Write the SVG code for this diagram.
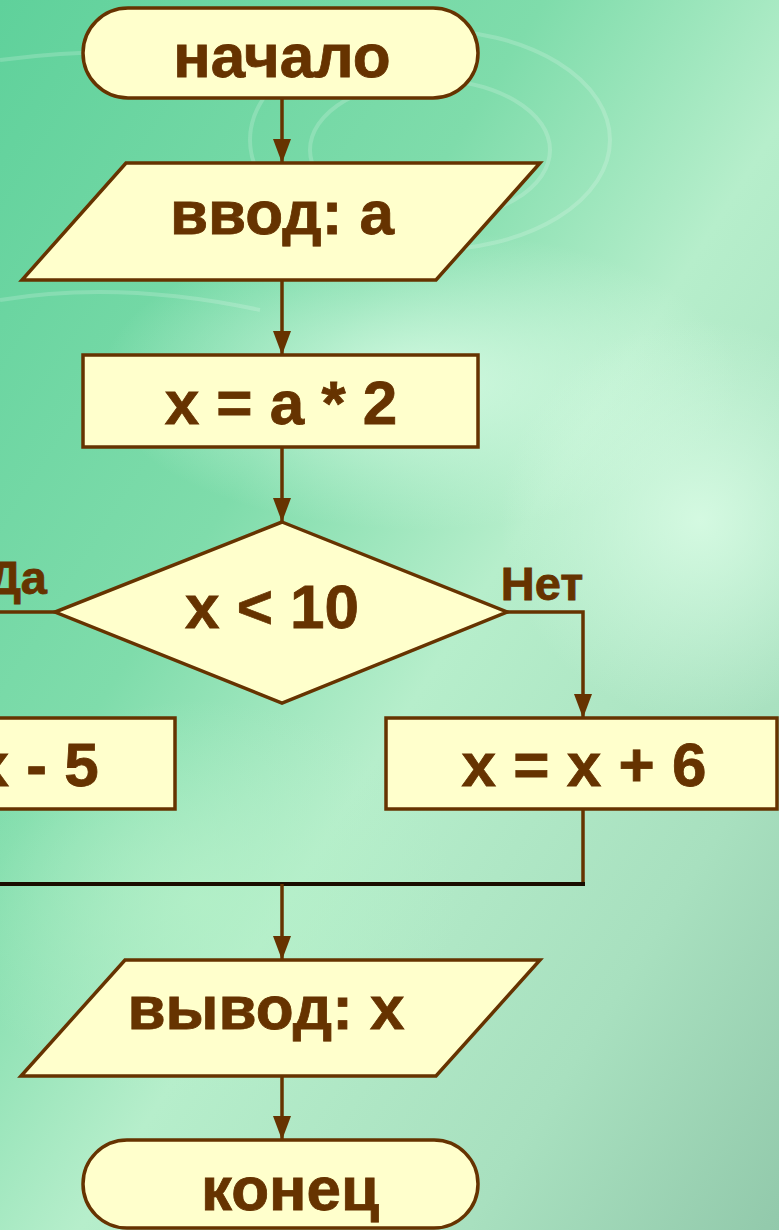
<svg xmlns="http://www.w3.org/2000/svg" width="779" height="1230" viewBox="0 0 779 1230">
<defs>
<linearGradient id="bg" x1="0" y1="0" x2="1" y2="1">
<stop offset="0" stop-color="#5fd19b"/>
<stop offset="0.35" stop-color="#7fdcab"/>
<stop offset="0.55" stop-color="#b6eecb"/>
<stop offset="0.8" stop-color="#a8e0bf"/>
<stop offset="1" stop-color="#92c9ab"/>
</linearGradient>
<radialGradient id="glow1" cx="0.5" cy="0.5" r="0.5">
<stop offset="0" stop-color="#d8fbe4" stop-opacity="0.9"/>
<stop offset="1" stop-color="#d8fbe4" stop-opacity="0"/>
</radialGradient>
<radialGradient id="glow2" cx="0.5" cy="0.5" r="0.5">
<stop offset="0" stop-color="#b4f0c8" stop-opacity="0.8"/>
<stop offset="1" stop-color="#b4f0c8" stop-opacity="0"/>
</radialGradient>
<marker id="arr" markerUnits="userSpaceOnUse" markerWidth="24" markerHeight="18" refX="24" refY="9" orient="auto" viewBox="0 0 24 18">
<path d="M0,0 L24,9 L0,18 Z" fill="#663300"/>
</marker>
<style>
.shape{fill:#ffffcc;stroke:#663300;stroke-width:3.5}
.lbl{font-family:"Liberation Sans",Arial,sans-serif;font-weight:bold;font-size:62px;fill:#663300;stroke:#663300;stroke-width:0.8;text-anchor:middle}
.small{font-size:47px}
.line{fill:none;stroke:#663300;stroke-width:3.5}
</style>
</defs>
<rect width="779" height="1230" fill="url(#bg)"/>
<ellipse cx="420" cy="380" rx="320" ry="150" fill="url(#glow1)"/>
<ellipse cx="700" cy="520" rx="200" ry="200" fill="url(#glow1)"/>
<ellipse cx="200" cy="900" rx="260" ry="200" fill="url(#glow2)"/>
<g fill="none" stroke="#ffffff" stroke-opacity="0.18" stroke-width="4">
<ellipse cx="430" cy="140" rx="180" ry="110"/>
<ellipse cx="430" cy="150" rx="120" ry="70"/>
<path d="M0,60 Q150,40 300,70"/>
<path d="M0,300 Q120,280 260,310"/>
</g>

<g id="connectors">
<line class="line" x1="282" y1="98" x2="282" y2="163" marker-end="url(#arr)"/>
<line class="line" x1="282" y1="280" x2="282" y2="355" marker-end="url(#arr)"/>
<line class="line" x1="282" y1="447" x2="282" y2="522" marker-end="url(#arr)"/>
<polyline class="line" points="55,612 -10,612"/>
<polyline class="line" points="507,612 583,612 583,718" marker-end="url(#arr)"/>
<polyline class="line" points="583,809 583,884"/>
<line x1="-10" y1="884" x2="585" y2="884" stroke="#1a0d00" stroke-width="4"/>
<line class="line" x1="282" y1="884" x2="282" y2="960" marker-end="url(#arr)"/>
<line class="line" x1="282" y1="1076" x2="282" y2="1140" marker-end="url(#arr)"/>
<text class="lbl small" x="47" y="594" style="text-anchor:end">Да</text>
<text class="lbl small" x="542" y="600">Нет</text>
</g>

<g id="start">
<rect class="shape" x="83" y="8" width="395" height="90" rx="45" ry="45"/>
<text class="lbl" x="282" y="77">начало</text>
</g>
<g id="input">
<polygon class="shape" points="126,163 540,163 436,280 22,280"/>
<text class="lbl" x="282" y="234">ввод: а</text>
</g>
<g id="calc">
<rect class="shape" x="83" y="355" width="395" height="92"/>
<text class="lbl" x="281" y="424">x = a * 2</text>
</g>
<g id="cond">
<polygon class="shape" points="282,522 507,612 282,703 55,612"/>
<text class="lbl" x="272" y="628">x &lt; 10</text>
</g>
<g id="yes">
<rect class="shape" x="-216" y="718" width="391" height="91"/>
<text class="lbl" x="-16" y="786">x = x - 5</text>
</g>
<g id="no">
<rect class="shape" x="386" y="718" width="391" height="91"/>
<text class="lbl" x="584" y="786">x = x + 6</text>
</g>
<g id="output">
<polygon class="shape" points="125,960 540,960 436,1076 21,1076"/>
<text class="lbl" x="266" y="1029">вывод: x</text>
</g>
<g id="end">
<rect class="shape" x="83" y="1140" width="395" height="88" rx="44" ry="44"/>
<text class="lbl" x="290" y="1210">конец</text>
</g>
</svg>
